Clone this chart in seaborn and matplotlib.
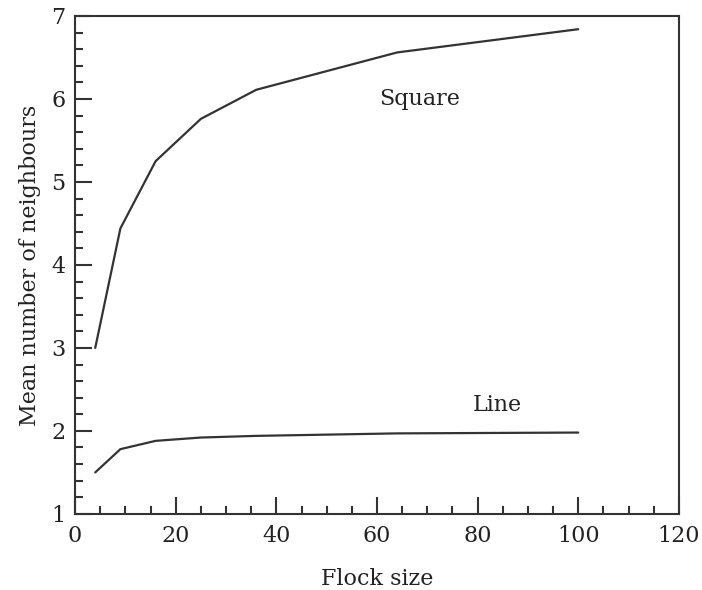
import pandas as pd
import matplotlib.pyplot as plt
import seaborn as sns
from matplotlib.ticker import MultipleLocator

# Data
flock_size = [4, 9, 16, 25, 36, 64, 100]
square_neighbours = [3.0, 4.44, 5.25, 5.76, 6.11, 6.56, 6.84]
line_neighbours = [1.5, 1.78, 1.88, 1.92, 1.94, 1.97, 1.98]

df = pd.DataFrame({
    "flock_size": flock_size * 2,
    "neighbours": square_neighbours + line_neighbours,
    "shape": ["Square"] * len(flock_size) + ["Line"] * len(flock_size),
})

sns.set_theme(style="ticks")
plt.rcParams["font.family"] = ["DejaVu Serif"]

fig, ax = plt.subplots(figsize=(7.02, 5.90), dpi=100)
fig.subplots_adjust(left=0.107, right=0.967, bottom=0.129, top=0.973)

sns.lineplot(data=df, x="flock_size", y="neighbours", units="shape",
             estimator=None, color="#333333", linewidth=1.6, ax=ax)

ax.set_xlim(0, 120)
ax.set_ylim(1, 7)
ax.xaxis.set_major_locator(MultipleLocator(20))
ax.xaxis.set_minor_locator(MultipleLocator(5))
ax.yaxis.set_major_locator(MultipleLocator(1))
ax.yaxis.set_minor_locator(MultipleLocator(0.2))
ax.tick_params(which="both", direction="in", colors="#333333",
               labelcolor="#222222", labelsize=16, top=False, right=False)
ax.tick_params(which="major", length=12, width=1.5)
ax.tick_params(which="minor", length=6, width=1.5)
ax.tick_params(axis="x", pad=8)
ax.tick_params(axis="y", pad=7)

for s in ax.spines.values():
    s.set_color("#333333")
    s.set_linewidth(1.5)

ax.set_xlabel("Flock size", fontsize=16, color="#222222", labelpad=15)
ax.set_ylabel("Mean number of neighbours", fontsize=16, color="#222222", labelpad=7)

ax.text(68.5, 6.0, "Square", fontsize=16, color="#222222", ha="center", va="center")
ax.text(84, 2.31, "Line", fontsize=16, color="#222222", ha="center", va="center")

plt.savefig("out.png", dpi=100)
plt.close()
